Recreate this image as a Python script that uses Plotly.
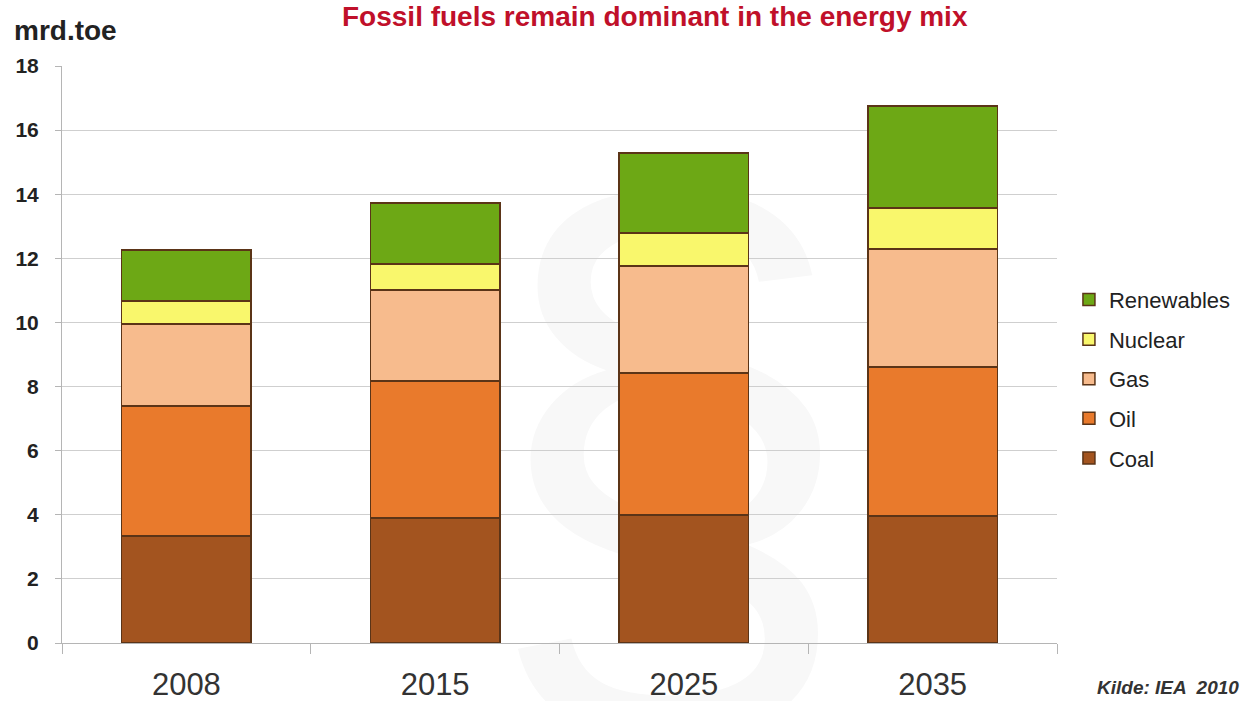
import base64
import plotly.graph_objects as go

# World primary energy demand by fuel (mrd.toe)
years = ["2008", "2015", "2025", "2035"]
coal = [3.34, 3.90, 3.99, 3.96]
oil = [4.05, 4.27, 4.43, 4.65]
gas = [2.56, 2.84, 3.34, 3.68]
nuclear = [0.72, 0.81, 1.03, 1.28]
renewables = [1.59, 1.90, 2.49, 3.18]

series = [
    ("Coal", coal, "#a3541f"),
    ("Oil", oil, "#e97a2c"),
    ("Gas", gas, "#f7bb8d"),
    ("Nuclear", nuclear, "#f9f76c"),
    ("Renewables", renewables, "#6da815"),
]

fig = go.Figure()
for i, (name, vals, color) in enumerate(series):
    fig.add_trace(go.Bar(
        x=years, y=vals, name=name, legendgroup=name,
        legendrank=1000 - i * 10,  # top of the stack listed first
        marker=dict(color=color, line=dict(color="#5b3417", width=1.5)),
        width=0.52,
    ))

# faint paragraph-sign watermark behind the plot
svg = (
    '<svg xmlns="http://www.w3.org/2000/svg" width="400" height="800" viewBox="0 0 400 800">'
    '<text x="200" y="640" font-family="Liberation Sans, Arial, sans-serif" font-size="760" '
    'text-anchor="middle" fill="#f8f8f8">&#167;</text></svg>'
)
uri = "data:image/svg+xml;base64," + base64.b64encode(svg.encode()).decode()
fig.add_layout_image(dict(
    source=uri, xref="paper", yref="paper", x=0.43, y=0.98,
    sizex=0.36, sizey=1.35, xanchor="left", yanchor="top",
    sizing="contain", layer="below",
))

fig.update_layout(
    width=1255, height=701,
    barmode="stack",
    paper_bgcolor="white",
    plot_bgcolor="rgba(0,0,0,0)",
    margin=dict(l=62, r=198, t=66, b=58),
    font=dict(family="Liberation Sans, Arial, sans-serif", color="#222"),
    showlegend=True,
    legend=dict(
        traceorder="grouped",
        tracegroupgap=8,
        x=1.012, xanchor="left", y=0.458, yanchor="middle",
        font=dict(size=22, color="#222"),
        itemwidth=30,
        bgcolor="rgba(0,0,0,0)",
    ),
    xaxis=dict(
        type="category",
        automargin=False,
        showgrid=False,
        showline=True, linecolor="#b5b5b5", linewidth=1,
        ticks="outside", tickson="boundaries", ticklen=10, tickcolor="#b5b5b5",
        tickfont=dict(size=31, color="#333"),
        ticklabelstandoff=14,
    ),
    yaxis=dict(
        range=[0, 18], dtick=2,
        automargin=False,
        showgrid=True, gridcolor="#cfcfcf", gridwidth=1,
        showline=True, linecolor="#b5b5b5", linewidth=1,
        ticks="outside", ticklen=6, tickcolor="#b5b5b5",
        tickfont=dict(size=21, color="#222", family="Liberation Sans, Arial, sans-serif"),
        ticklabelstandoff=12,
        zeroline=False,
    ),
    annotations=[
        dict(text="<b>Fossil fuels remain dominant in the energy mix</b>",
             xref="paper", yref="paper", x=0.596, y=1.0, xanchor="center",
             yanchor="bottom", yshift=32, showarrow=False,
             font=dict(size=28, color="#c0102a")),
        dict(text="<b>mrd.toe</b>",
             xref="paper", yref="paper", x=0, y=1.0, xanchor="left",
             xshift=-50, yanchor="bottom", yshift=18, showarrow=False,
             font=dict(size=28, color="#222")),
        dict(text="<b><i>Kilde: IEA  2010</i></b>",
             xref="paper", yref="paper", x=1.0, y=0, xanchor="left",
             xshift=38, yanchor="top", yshift=-32, showarrow=False,
             font=dict(size=19, color="#333")),
    ],
)

# bold y tick labels
fig.update_yaxes(tickprefix="<b>", ticksuffix="</b>")

fig.write_html("out.html")
